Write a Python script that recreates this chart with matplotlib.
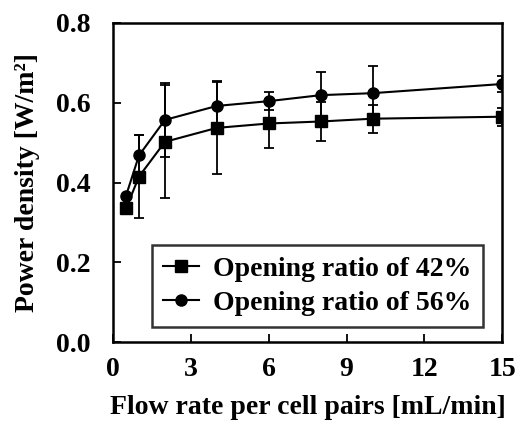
import matplotlib.pyplot as plt

plt.rcParams['font.family'] = ['Liberation Serif', 'DejaVu Serif']
plt.rcParams['font.weight'] = 'bold'

flow = [0.5, 1, 2, 4, 6, 8, 10, 15]
pd_42 = [0.335, 0.415, 0.502, 0.537, 0.548, 0.553, 0.560, 0.565]
err_42 = [0.0, 0.105, 0.142, 0.116, 0.062, 0.048, 0.035, 0.023]
pd_56 = [0.367, 0.468, 0.557, 0.592, 0.604, 0.619, 0.624, 0.647]
err_56 = [0.0, 0.051, 0.092, 0.063, 0.022, 0.057, 0.067, 0.02]
xticks = [0, 3, 6, 9, 12, 15]
yticks = [0.0, 0.2, 0.4, 0.6, 0.8]

fig = plt.figure(figsize=(5.21, 4.25), dpi=100)
ax = fig.add_axes([0.217, 0.195, 0.747, 0.751])

# error bars without the line so the legend shows only line + marker
ax.errorbar(flow, pd_42, yerr=err_42, fmt='none', ecolor='black',
            elinewidth=1.3, capsize=3.5, capthick=1.3)
ax.errorbar(flow, pd_56, yerr=err_56, fmt='none', ecolor='black',
            elinewidth=1.3, capsize=3.5, capthick=1.3)
ax.plot(flow, pd_42, color='black', marker='s', markersize=8.5,
        linewidth=1.5, label='Opening ratio of 42%')
ax.plot(flow, pd_56, color='black', marker='o', markersize=8,
        linewidth=1.5, label='Opening ratio of 56%')

ax.set_xlim(0, 15)
ax.set_ylim(0, 0.8)
ax.set_xticks(xticks)
ax.set_xticklabels([str(t) for t in xticks])
ax.set_yticks(yticks)
ax.set_yticklabels([f'{t:.1f}' for t in yticks])
ax.tick_params(direction='in', length=6, width=1.3, labelsize=20)
ax.tick_params(axis='x', pad=11)
ax.tick_params(axis='y', pad=16)

for s in ax.spines.values():
    s.set_linewidth(1.8)

ax.set_xlabel('Flow rate per cell pairs [mL/min]', fontsize=20, fontweight='bold', labelpad=9)
ax.set_ylabel('Power density [W/m²]', fontsize=20, fontweight='bold', labelpad=12)

leg = ax.legend(loc='lower left', bbox_to_anchor=(0.1, 0.048), fontsize=20,
                frameon=True, fancybox=False, edgecolor='black',
                handlelength=1.3, handletextpad=0.5, borderpad=0.4,
                labelspacing=0.3, borderaxespad=0)
leg.get_frame().set_linewidth(1.8)

fig.savefig('out.png', dpi=100)
